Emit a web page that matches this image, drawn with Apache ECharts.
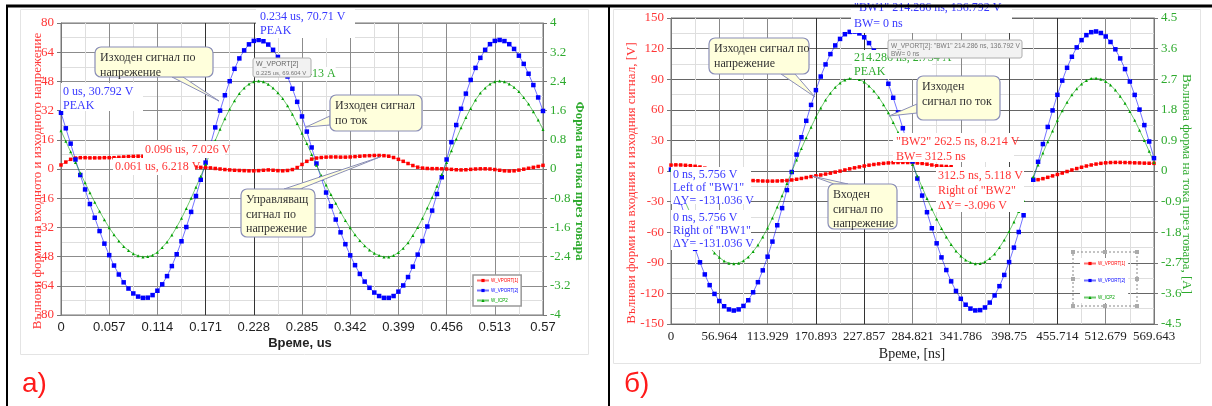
<!DOCTYPE html>
<html>
<head>
<meta charset="utf-8">
<script src="https://cdn.jsdelivr.net/npm/echarts@6/dist/echarts.min.js"></script>
<style>
html, body { margin: 0; padding: 0; background: #fff; }
#main { width: 1212px; height: 406px; }
</style>
</head>
<body>
<div id="main"></div>
<script>
// ---- panel a) : time step 0.0057 us, 101 samples ----
const tStepA = 0.0057;
const xLabelsA = ['0', '0.057', '0.114', '0.171', '0.228', '0.285', '0.342', '0.399', '0.456', '0.513', '0.57'];
const vport1A = [2.2, 3.8, 5.3, 6.0, 6.2, 6.2, 6.1, 6.1, 6.1, 6.2, 6.2, 6.2, 6.4, 6.6, 6.8, 6.9, 7.0, 7.0, 7.0, 6.9,
  6.8, 6.4, 5.6, 4.6, 3.5, 2.5, 1.7, 1.2, 1.0, 0.9, 0.8, 0.6, 0.3, 0.0, -0.3, -0.5, -0.7, -0.8, -0.9, -1.0,
  -1.0, -0.9, -0.7, -0.5, -0.7, -0.9, -1.0, -0.8, -0.3, 0.8, 2.5, 4.2, 5.4, 6.0, 6.3, 6.5, 6.6, 6.6, 6.5, 6.5,
  6.6, 6.8, 7.0, 7.2, 7.3, 7.4, 7.4, 7.3, 7.0, 6.3, 5.3, 4.2, 3.0, 1.9, 1.0, 0.5, 0.3, 0.2, 0.2, 0.1,
  0.0, -0.2, -0.4, -0.5, -0.4, -0.2, 0.0, 0.1, 0.1, 0.0, -0.3, -0.7, -1.0, -1.1, -1.0, -0.6, -0.1, 0.4, 0.9, 1.4, 2.0];
const vport2A = [30.8, 22.3, 13.9, 5.2, -3.3, -11.2, -19.2, -26.7, -34.0, -40.9, -47.2, -52.9, -57.8, -62.1, -65.5, -68.2, -69.9, -70.6, -70.5, -69.1,
  -66.7, -63.2, -58.7, -53.2, -46.7, -39.6, -31.8, -23.5, -14.8, -5.9, 3.5, 13.3, 22.8, 32.0, 40.4, 48.1, 54.9, 60.6, 65.0, 68.3,
  70.2, 70.7, 70.0, 68.2, 65.3, 61.4, 56.5, 50.7, 44.0, 36.8, 28.8, 20.5, 11.8, 3.0, -5.2, -12.9, -20.4, -27.7, -34.7, -41.2,
  -47.3, -52.7, -57.5, -61.7, -65.1, -67.7, -69.6, -70.6, -70.6, -69.6, -67.2, -63.8, -59.2, -53.5, -46.9, -39.5, -31.5, -22.8, -13.7, -4.5,
  5.2, 14.7, 24.1, 33.0, 41.3, 48.8, 55.4, 60.9, 65.3, 68.4, 70.2, 70.7, 70.1, 68.4, 65.8, 62.1, 57.6, 52.2, 46.0, 39.2, 31.8];
const icp2A = [1.05, 0.76, 0.47, 0.18, -0.11, -0.38, -0.65, -0.91, -1.16, -1.39, -1.61, -1.80, -1.97, -2.12, -2.23, -2.32, -2.38, -2.41, -2.40, -2.36,
  -2.28, -2.15, -2.00, -1.81, -1.59, -1.35, -1.08, -0.80, -0.50, -0.20, 0.12, 0.45, 0.78, 1.09, 1.38, 1.64, 1.87, 2.07, 2.22, 2.33,
  2.39, 2.41, 2.39, 2.32, 2.22, 2.09, 1.93, 1.73, 1.50, 1.25, 0.98, 0.70, 0.40, 0.10, -0.18, -0.44, -0.70, -0.94, -1.18, -1.41,
  -1.61, -1.80, -1.96, -2.10, -2.22, -2.31, -2.37, -2.41, -2.41, -2.37, -2.29, -2.17, -2.02, -1.82, -1.60, -1.35, -1.07, -0.78, -0.47, -0.15,
  0.18, 0.50, 0.82, 1.13, 1.41, 1.66, 1.89, 2.08, 2.22, 2.33, 2.39, 2.41, 2.39, 2.33, 2.24, 2.12, 1.96, 1.78, 1.57, 1.34, 1.08];

// ---- panel б) : time step 5.69643 ns, 101 samples ----
const tStepB = 5.69643;
const xLabelsB = ['0', '56.964', '113.929', '170.893', '227.857', '284.821', '341.786', '398.75', '455.714', '512.679', '569.643'];
const vport1B = [5.8, 6.0, 5.9, 5.6, 5.2, 4.6, 3.9, 2.8, 1.0, -1.0, -3.0, -5.0, -6.8, -8.0, -8.7, -9.0, -9.2, -9.4, -9.6, -9.8,
  -9.9, -9.9, -9.8, -9.6, -9.3, -8.8, -8.1, -7.3, -6.4, -5.5, -4.7, -3.9, -3.0, -2.1, -1.1, -0.1, 1.0, 2.1, 3.1, 4.0,
  4.9, 5.7, 6.4, 7.0, 7.5, 7.9, 8.2, 8.3, 8.4, 8.3, 8.2, 7.9, 7.4, 6.7, 5.9, 5.1, 4.7, 4.4, 4.2, null,
  null, null, null, null, null, null, null, null, null, null, null, null, null, null, null, -8.8, -8.5, -7.5, -6.2, -4.8,
  -3.4, -2.0, -0.5, 1.0, 2.4, 3.7, 4.9, 5.9, 6.8, 7.5, 8.0, 8.3, 8.4, 8.4, 8.3, 8.2, 8.0, 7.9, 7.7, 7.6, 7.5];
const vport2B = [1.4, -14.4, -30.6, -46.6, -62.0, -76.3, -89.5, -101.4, -111.9, -120.5, -127.5, -132.6, -135.7, -136.8, -135.7, -132.3, -126.7, -118.9, -109.0, -97.4,
  -84.0, -69.2, -53.2, -36.4, -18.7, -1.0, 16.1, 33.1, 49.2, 64.8, 79.3, 92.6, 104.5, 114.6, 123.1, 129.5, 134.1, 136.4, 136.7, 134.9,
  131.1, 125.4, 117.9, 108.6, 97.8, 85.5, 71.8, 57.3, 41.9, 25.6, 9.3, -7.4, -24.1, -40.4, -56.1, -70.9, -84.7, -97.1, -108.2, -117.6,
  -125.3, -131.1, -134.9, -136.7, -136.4, -133.8, -129.0, -122.0, -112.9, -101.9, -89.3, -75.1, -59.8, -43.4, null, -8.6, 9.0, 26.4, 43.2, 59.4,
  74.7, 88.6, 101.2, 112.0, 121.2, 128.3, 133.2, 136.1, 136.8, 135.3, 131.9, 126.5, 119.3, 110.4, 99.9, 87.7, 74.6, 60.2, 45.0, 28.9, 12.6];
const icp2B = [0.03, -0.29, -0.61, -0.93, -1.24, -1.52, -1.79, -2.02, -2.23, -2.41, -2.54, -2.65, -2.71, -2.73, -2.71, -2.64, -2.53, -2.37, -2.18, -1.94,
  -1.68, -1.38, -1.06, -0.73, -0.37, -0.02, 0.32, 0.66, 0.98, 1.29, 1.58, 1.85, 2.09, 2.29, 2.46, 2.59, 2.68, 2.72, 2.73, 2.69,
  2.62, 2.50, 2.35, 2.17, 1.95, 1.71, 1.43, 1.14, 0.84, 0.51, 0.19, -0.15, -0.48, -0.81, -1.12, -1.41, -1.69, -1.94, -2.16, -2.35,
  -2.50, -2.62, -2.69, -2.73, -2.72, -2.67, -2.57, -2.44, -2.25, -2.03, -1.78, -1.50, -1.19, -0.87, null, -0.17, 0.18, 0.53, 0.86, 1.18,
  1.49, 1.77, 2.02, 2.24, 2.42, 2.56, 2.66, 2.72, 2.73, 2.70, 2.63, 2.53, 2.38, 2.20, 1.99, 1.75, 1.49, 1.20, 0.90, 0.58, 0.25];

const SERIF = '"Liberation Serif", "Times New Roman", serif';
const SANS = '"Liberation Sans", Arial, sans-serif';
const RED = '#ff0000', BLUE = '#0000ff', GREEN = '#00a000';
const RED_T = '#ff3535', BLUE_T = '#3838ff', GREEN_T = '#2eaa2e';

const chart = echarts.init(document.getElementById('main'));

function lineSeries(name, color, symbol, size, xi, yi, step, values) {
    return {
        name: name, type: 'line', xAxisIndex: xi, yAxisIndex: yi,
        data: values.map((v, i) => [i * step, v]),
        symbol: symbol, symbolSize: size, showSymbol: true,
        itemStyle: { color: color },
        lineStyle: { color: color, width: 1, opacity: 0.55 },
        emphasis: { disabled: true }
    };
}

function xAxis(grid, max, interval, labels, font, split) {
    return {
        gridIndex: grid, type: 'value', min: 0, max: max, interval: interval,
        axisLine: { show: false }, axisTick: { show: false },
        axisLabel: { formatter: (v, i) => labels[i], fontFamily: font, fontSize: 13, color: '#222', margin: 6 },
        splitLine: { lineStyle: { color: split, width: 1 } },
        minorTick: { show: false, splitNumber: 2 },
        minorSplitLine: { show: true, lineStyle: { color: '#dedede' } }
    };
}

function yAxis(grid, pos, min, max, interval, color, split) {
    return {
        gridIndex: grid, type: 'value', position: pos, min: min, max: max, interval: interval,
        axisLine: { show: true, lineStyle: { color: '#777' } },
        axisTick: { show: true, length: 4, lineStyle: { color: '#777' } },
        axisLabel: { color: color, fontFamily: SERIF, fontSize: 13, margin: 7 },
        splitLine: { show: !!split, lineStyle: { color: split || '#888' } },
        minorTick: { show: false, splitNumber: 2 },
        minorSplitLine: { show: !!split, lineStyle: { color: '#dedede' } }
    };
}

// ---- annotation helpers (graphic) ----
function rect(x, y, w, h, fill, stroke, z, extra) {
    return Object.assign({ type: 'rect', z: z, shape: { x: x, y: y, width: w, height: h },
        style: { fill: fill, stroke: stroke || null, lineWidth: 1 } }, extra || {});
}
function text(x, y, str, color, size, font, z, extra) {
    return { type: 'text', x: x, y: y, z: z,
        style: Object.assign({ text: str, fill: color, font: size + 'px ' + font, lineHeight: size + 2 }, extra || {}) };
}
function callout(x, y, w, h, lines, b1, b2, tip) {
    return [
        { type: 'polygon', z: 20, shape: { points: [b1, tip, b2] }, style: { fill: '#ffffdc', stroke: '#8a8eb8', lineWidth: 1 } },
        { type: 'rect', z: 21, shape: { x: x, y: y, width: w, height: h, r: 6 }, style: { fill: '#ffffdc', stroke: '#8a8eb8', lineWidth: 1.2 } },
        text(x + 5, y + 4, lines.join('\n'), '#333', 12, SERIF, 22, { lineHeight: 14.5 })
    ];
}
function vtext(x, y, str, color, size, weight, rot) {
    return { type: 'text', x: x, y: y, rotation: rot, z: 5,
        style: { text: str, fill: color, font: weight + ' ' + size + 'px ' + SERIF, textAlign: 'center', textVerticalAlign: 'middle' } };
}

const graphics = [
    // frame and cards
    rect(20.5, 9.5, 568, 345, 'none', '#e4e4e4', 1),
    rect(613.5, 9.5, 587, 354, 'none', '#e4e4e4', 1),
    { type: 'line', z: 50, shape: { x1: 6, y1: 6, x2: 1212, y2: 6 }, style: { stroke: '#000', lineWidth: 3 } },
    { type: 'line', z: 50, shape: { x1: 7, y1: 5, x2: 7, y2: 406 }, style: { stroke: '#000', lineWidth: 2 } },
    { type: 'line', z: 50, shape: { x1: 609, y1: 5, x2: 609, y2: 406 }, style: { stroke: '#000', lineWidth: 2 } },
    text(22, 369, 'a)', '#ff1a1a', 28, SANS, 5),
    text(624, 369, 'б)', '#ff1a1a', 28, SANS, 5),

    // axis names a)
    vtext(38, 181, 'Вълнови форми на входното и изходното напрежение', RED_T, 13, 'normal', Math.PI / 2),
    vtext(579, 181, 'Форма на тока през товара', GREEN_T, 13, 'bold', -Math.PI / 2),
    { type: 'text', x: 300, y: 343, z: 5, style: { text: 'Време, us', fill: '#222', font: 'bold 13px ' + SANS, textAlign: 'center', textVerticalAlign: 'middle' } },
    // axis names б)
    vtext(632, 183, 'Вълнови форми на входния и изходния сигнал, [V]', RED_T, 13, 'normal', Math.PI / 2),
    vtext(1186, 184, 'Вълнова форма на тока през товара, [A]', GREEN_T, 13, 'normal', -Math.PI / 2),
    { type: 'text', x: 912, y: 354, z: 5, style: { text: 'Време, [ns]', fill: '#222', font: '14px ' + SERIF, textAlign: 'center', textVerticalAlign: 'middle' } },

    // labels a)
    rect(256, 8, 99, 30, '#fff', null, 10),
    text(260, 10, '0.234 us, 70.71 V\nPEAK', BLUE_T, 12, SERIF, 11, { lineHeight: 14 }),
    rect(61, 83, 82, 28, '#fff', null, 10),
    text(63, 85, '0 us, 30.792 V\nPEAK', BLUE_T, 12, SERIF, 11, { lineHeight: 14 }),
    rect(143, 141, 82, 17, '#fff', null, 10),
    text(145, 143, '0.096 us, 7.026 V', RED_T, 12, SERIF, 11),
    rect(113, 158, 82, 17, '#fff', null, 10),
    text(115, 160, '0.061 us, 6.218 V', RED_T, 12, SERIF, 11),
    text(297, 67, '2.413 A', GREEN_T, 12, SERIF, 11, { backgroundColor: '#fff' }),
    rect(253, 58, 58, 19, '#f2f2f2', '#aeaeae', 12, { shape: { x: 253, y: 58, width: 58, height: 19, r: 2 } }),
    text(256, 60, 'W_VPORT[2]', '#666', 7, SANS, 13),
    text(256, 69, '0.225 us, 69.604 V', '#777', 6, SANS, 13),

    // labels б)
    rect(851, 8, 161, 25, '#fff', null, 10),
    text(854, 0, '"BW1" 214.286 ns, 136.792 V\nBW= 0 ns', BLUE_T, 12, SERIF, 11, { lineHeight: 16 }),
    rect(852, 50, 80, 29, '#fff', null, 10),
    text(854, 51, '214.286 ns, 2.734 A\nPEAK', GREEN_T, 12, SERIF, 11, { lineHeight: 14 }),
    rect(888, 40, 134, 18, '#f2f2f2', '#aeaeae', 12, { shape: { x: 888, y: 40, width: 134, height: 18, r: 2 } }),
    text(891, 42, 'W_VPORT[2]: "BW1" 214.286 ns, 136.792 V\nBW= 0 ns', '#777', 6.5, SANS, 13, { lineHeight: 8 }),
    rect(893, 133, 121, 29, '#fff', null, 10),
    text(896, 134, '"BW2" 262.5 ns, 8.214 V\nBW= 312.5 ns', RED_T, 12, SERIF, 11, { lineHeight: 15 }),
    rect(936, 167, 88, 45, '#fff', null, 10),
    text(938, 168, '312.5 ns, 5.118 V\nRight of "BW2"\nΔY= -3.096 V', RED_T, 12, SERIF, 11, { lineHeight: 15 }),
    rect(671, 167, 80, 37, '#fff', null, 10),
    text(673, 168, '0 ns, 5.756 V\nLeft of "BW1"\nΔY= -131.036 V', BLUE_T, 12, SERIF, 11, { lineHeight: 13 }),
    rect(671, 210, 80, 40, '#fff', null, 10),
    text(673, 211, '0 ns, 5.756 V\nRight of "BW1"\nΔY= -131.036 V', BLUE_T, 12, SERIF, 11, { lineHeight: 13 }),

    // legend б) selection frame
    rect(1073, 252, 64, 54, 'none', '#888', 30, { style: { fill: 'none', stroke: '#888', lineWidth: 1, lineDash: [2, 2] } })
].concat(
    [[1073, 252], [1105, 252], [1137, 252], [1073, 279], [1137, 279], [1073, 306], [1105, 306], [1137, 306]]
        .map(p => rect(p[0] - 2, p[1] - 2, 4, 4, '#aaa', null, 31)),
    callout(95, 47, 118, 30, ['Изходен сигнал по', 'напрежение'], [172, 77], [183, 77], [219, 101]),
    callout(330, 95, 92, 36, ['Изходен сигнал', 'по ток'], [330, 116], [330, 125], [306, 127]),
    callout(241, 189, 74, 48, ['Управляващ', 'сигнал по', 'напрежение'], [284, 189], [300, 189], [380, 157]),
    callout(709, 38, 100, 36, ['Изходен сигнал по', 'напрежение'], [781, 74], [795, 74], [815, 97]),
    callout(917, 76, 83, 44, ['Изходен', 'сигнал по ток'], [917, 104], [917, 113], [889, 116]),
    callout(828, 184, 69, 45, ['Входен', 'сигнал по', 'напрежение'], [834, 184], [848, 184], [812, 176])
);

const legendNames = ['W_VPORT[1]', 'W_VPORT[2]', 'W_ICP2'];
const legendColors = [RED, BLUE, GREEN];
function legend(left, top, gap, border) {
    return {
        left: left, top: top, orient: 'vertical', itemWidth: 12, itemHeight: 4, itemGap: gap,
        padding: [3, 3], backgroundColor: '#fff', borderColor: border ? '#999' : 'transparent', borderWidth: border ? 1.5 : 0,
        selectedMode: false,
        data: legendNames.map((n, i) => ({ name: n, textStyle: { color: legendColors[i] } })),
        textStyle: { fontSize: 4.5, fontFamily: SANS, padding: [0, 0, 0, -3] }
    };
}

chart.setOption({
    animation: false,
    grid: [
        { left: 61, top: 23, width: 482, height: 292, show: true, borderColor: '#777', borderWidth: 1 },
        { left: 671, top: 18, width: 483, height: 306, show: true, borderColor: '#777', borderWidth: 1 }
    ],
    legend: [legend(473, 275, 5, true), legend(1080, 258, 12, false)],
    xAxis: [
        xAxis(0, 0.57, 0.057, xLabelsA, SANS, ['#8c8c8c', '#8c8c8c', '#8c8c8c', '#333', '#333', '#8c8c8c', '#8c8c8c', '#8c8c8c', '#8c8c8c', '#8c8c8c', '#8c8c8c']),
        xAxis(1, 569.6429, 56.96429, xLabelsB, SERIF, ['#888', '#888', '#888', '#333', '#333', '#888', '#888', '#444', '#333', '#888', '#888'])
    ],
    yAxis: [
        yAxis(0, 'left', -80, 80, 16, RED_T, '#8c8c8c'),
        yAxis(0, 'right', -4, 4, 0.8, GREEN_T, null),
        yAxis(1, 'left', -150, 150, 30, RED_T, '#666'),
        yAxis(1, 'right', -4.5, 4.5, 0.9, GREEN_T, null)
    ],
    series: [
        lineSeries('W_VPORT[1]', RED, 'rect', 3.5, 0, 0, tStepA, vport1A),
        lineSeries('W_VPORT[2]', BLUE, 'rect', 4.5, 0, 0, tStepA, vport2A),
        lineSeries('W_ICP2', GREEN, 'triangle', 3, 0, 1, tStepA, icp2A),
        lineSeries('W_VPORT[1]', RED, 'rect', 3.5, 1, 2, tStepB, vport1B),
        lineSeries('W_VPORT[2]', BLUE, 'rect', 4.5, 1, 2, tStepB, vport2B),
        lineSeries('W_ICP2', GREEN, 'triangle', 3, 1, 3, tStepB, icp2B)
    ],
    graphic: { elements: graphics }
});
</script>
</body>
</html>
